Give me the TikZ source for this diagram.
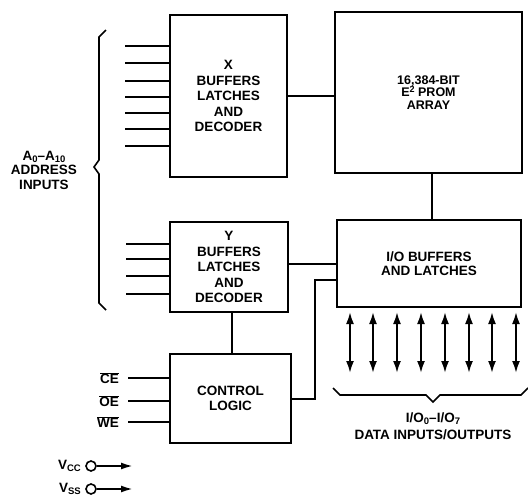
\documentclass[tikz,border=0pt]{standalone}
\usepackage{fontspec}
\setmainfont{Liberation Sans}
\usepackage{tikz}
\usetikzlibrary{arrows.meta,calc}
\newcommand{\lowidx}[1]{\raisebox{-0.35ex}{\fontsize{9.5}{9.5}\selectfont #1}}
\newcommand{\highidx}[1]{\raisebox{0.6ex}{\fontsize{9}{9}\selectfont #1}}
\newcommand{\negsig}[1]{$\overline{\mbox{#1}}$}

\begin{document}
\begin{tikzpicture}[x=1pt,y=-1pt,
  block/.style={draw, line width=2.8pt, inner sep=0pt, align=center,
    font=\fontsize{13.5}{15.5}\selectfont\bfseries},
  tagtext/.style={inner sep=0pt, align=center,
    font=\fontsize{13.5}{14.5}\selectfont\bfseries},
  wire/.style={line width=2pt},
  iolink/.style={wire,{Latex[length=12pt,width=8pt]}-{Latex[length=12pt,width=8pt]}},
  supply/.style={wire,-{Latex[length=12pt,width=7pt]}},
  pad/.style={draw, circle, line width=1.6pt, minimum size=10pt, inner sep=0pt}
]
\useasboundingbox (0,0) rectangle (528,498);
\node[block, minimum width=117pt, minimum height=162pt] (xbuf) at (228.5,96)
  {X\\BUFFERS\\LATCHES\\AND\\DECODER};
\node[block, minimum width=187pt, minimum height=161pt,
  font=\fontsize{12.5}{12.5}\selectfont\bfseries] (prom) at (428.5,92.5)
  {16,384-BIT\\E\highidx{2} PROM\\ARRAY};
\node[block, minimum width=118pt, minimum height=90pt] (ybuf) at (229,267)
  {Y\\BUFFERS\\LATCHES\\AND\\DECODER};
\node[block, minimum width=184pt, minimum height=87pt,
  font=\fontsize{13.5}{14}\selectfont\bfseries] (iobuf) at (429,263.5)
  {I/O BUFFERS\\AND LATCHES};
\node[block, minimum width=121pt, minimum height=89pt] (ctrl) at (230.5,398.5)
  {CONTROL\\LOGIC};

\draw[wire] (xbuf.east) -- (xbuf.east -| prom.west);
\draw[wire] ($(prom.south)+(3.5,0)$) -- ($(prom.south |- iobuf.north)+(3.5,0)$);
\draw[wire] (iobuf.west) -- (iobuf.west -| ybuf.east);
\draw[wire] ($(ybuf.south)+(3,0)$) -- ($(ybuf.south |- ctrl.north)+(3,0)$);
\coordinate (cbend) at (315,280);
\draw[wire] (ctrl.east) -| (cbend) -- (cbend -| iobuf.west);

\foreach \ya [count=\i] in {46,63,81,97,113,129,146} {
  \coordinate (xin\i) at (125,\ya);
  \draw[wire] (xin\i) -- (xin\i -| xbuf.west);
}
\foreach \ya [count=\i] in {244,259,276,294} {
  \coordinate (yin\i) at (126,\ya);
  \draw[wire] (yin\i) -- (yin\i -| ybuf.west);
}
\foreach \sig/\ya in {CE/378,OE/401,WE/422} {
  \node[tagtext, anchor=east] (lab\sig) at (119,\ya) {\negsig{\sig}};
  \draw[wire] ($(lab\sig.east)+(9,0)$) -- (lab\sig.east -| ctrl.west);
}

\draw[wire, line width=1.6pt] (106,30) -- (99,37) -- (99,160) -- (94,167)
  -- (99,174) -- (99,303) -- (106,310);
\node[tagtext] (addr) at (44,170) {A\lowidx{0}--A\lowidx{10}\\ADDRESS\\INPUTS};

\foreach \xa [count=\i] in {350,373,397,421,445,469,492,516} {
  \coordinate (dtop\i) at (\xa,312);
  \coordinate (dbot\i) at (\xa,373);
  \draw[iolink] (dtop\i) -- (dbot\i);
}
\draw[wire, line width=1.6pt] (333,388) -- (340,395) -- (426,395) -- (433,402)
  -- (440,395) -- (521,395) -- (528,388);
\node[tagtext, font=\fontsize{13.5}{17}\selectfont\bfseries] (dlab) at (433,426)
  {I/O\lowidx{0}--I/O\lowidx{7}\\DATA INPUTS/OUTPUTS};

\node[tagtext, anchor=east] (vcclab) at (81,466) {V\lowidx{CC}};
\node[pad] (vcc) at (91,466) {};
\coordinate (vccend) at (133,466);
\draw[supply] (vcc) -- (vccend);
\node[tagtext, anchor=east] (vsslab) at (81,489) {V\lowidx{SS}};
\node[pad] (vss) at (91,489) {};
\coordinate (vssend) at (133,489);
\draw[supply] (vss) -- (vssend);
\end{tikzpicture}
\end{document}
